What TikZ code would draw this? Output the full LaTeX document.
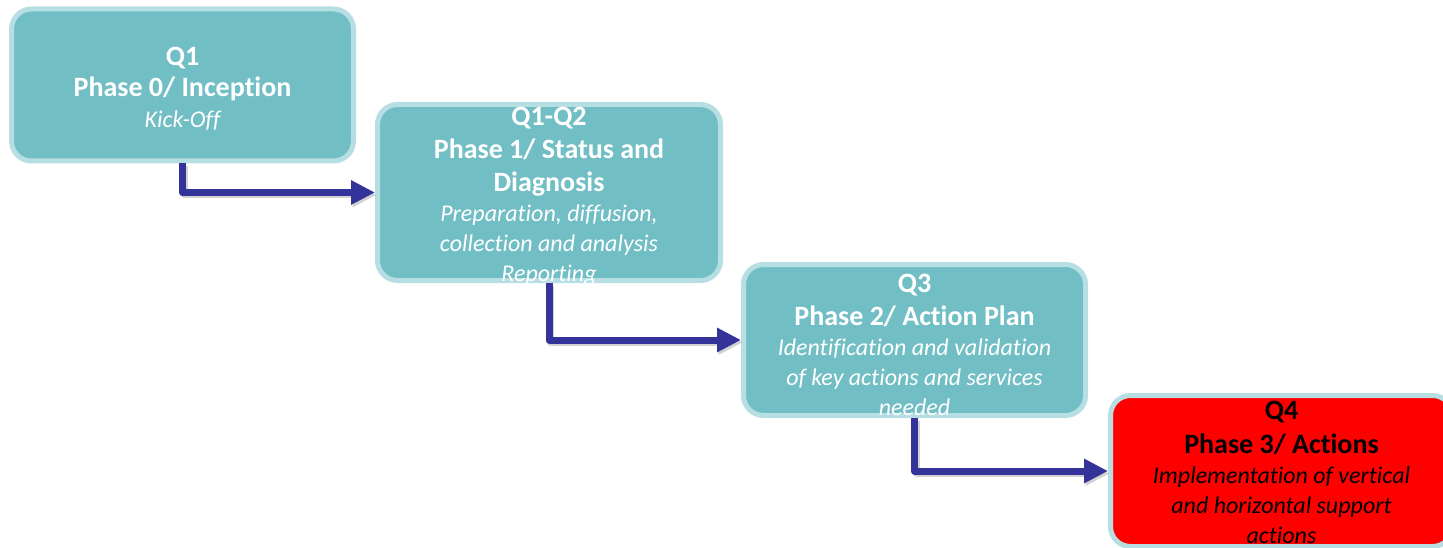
\documentclass[tikz,border=0pt]{standalone}
\usepackage{fontspec}
\setmainfont{Carlito}[Ligatures={TeX,CommonOff}]
\usetikzlibrary{arrows.meta}
\definecolor{tealfill}{RGB}{114,190,197}
\definecolor{tealedge}{RGB}{183,222,226}
\definecolor{arrowblue}{RGB}{51,51,153}
\definecolor{redfill}{RGB}{255,0,0}
\newcommand{\hd}[1]{{\fontsize{28}{30}\selectfont\bfseries #1}}
\newcommand{\sub}[1]{{\itshape #1}}
\tikzset{
  phasebox/.style={draw=tealedge, fill=tealfill, line width=5pt, rounded corners=20pt,
    minimum width=342pt, minimum height=152pt, inner sep=0pt},
  phasetext/.style={align=center, text=white, font=\fontsize{24}{30}\selectfont, inner sep=0pt},
  flowarrow/.style={draw=arrowblue, line width=7pt, line join=round,
    -{Triangle[length=24pt, width=23pt]}},
  arrowshadow/.style={flowarrow, draw=black, draw opacity=0.18, fill opacity=0.18,
    transform canvas={shift={(1.5pt,-2.5pt)}}},
}
\begin{document}
\begin{tikzpicture}[x=1pt, y=-1pt]
\useasboundingbox (0,0) rectangle (1443,548);
\node[phasebox] (b1) at (182.5,85) {};
\node[phasebox, minimum width=343pt, minimum height=176pt] (b2) at (549,192.5) {};
\node[phasebox, minimum height=151pt] (b3) at (914.5,340) {};
\node[phasebox, fill=redfill, minimum height=151pt] (b4) at (1281.5,471) {};

\node[phasetext] (t1) at ([yshift=-4pt]b1.center) {\hd{Q1}\\[1pt]\hd{Phase 0/ Inception}\\[1pt]\sub{Kick-Off}};
\node[phasetext] (t2) at ([yshift=-3.5pt]b2.center) {\hd{Q1-Q2}\\[3pt]\hd{Phase 1/ Status and}\\[3pt]\hd{Diagnosis}\\\sub{Preparation, diffusion,}\\\sub{collection and analysis}\\\sub{Reporting}};
\node[phasetext] (t3) at ([yshift=-4.5pt]b3.center) {\hd{Q3}\\[3pt]\hd{Phase 2/ Action Plan}\\\sub{Identification and validation}\\\sub{of key actions and services}\\\sub{needed}};
\node[phasetext, text=black] (t4) at ([yshift=-1pt]b4.center) {\hd{Q4}\\[4pt]\hd{Phase 3/ Actions}\\\sub{Implementation of vertical}\\\sub{and horizontal support}\\\sub{actions}};

\draw[arrowshadow] (b1.south) |- (b2.west);
\draw[arrowshadow] (b2.south) |- (b3.west);
\draw[arrowshadow] (b3.south) |- (b4.west);
\draw[flowarrow] (b1.south) |- (b2.west);
\draw[flowarrow] (b2.south) |- (b3.west);
\draw[flowarrow] (b3.south) |- (b4.west);
\end{tikzpicture}
\end{document}
